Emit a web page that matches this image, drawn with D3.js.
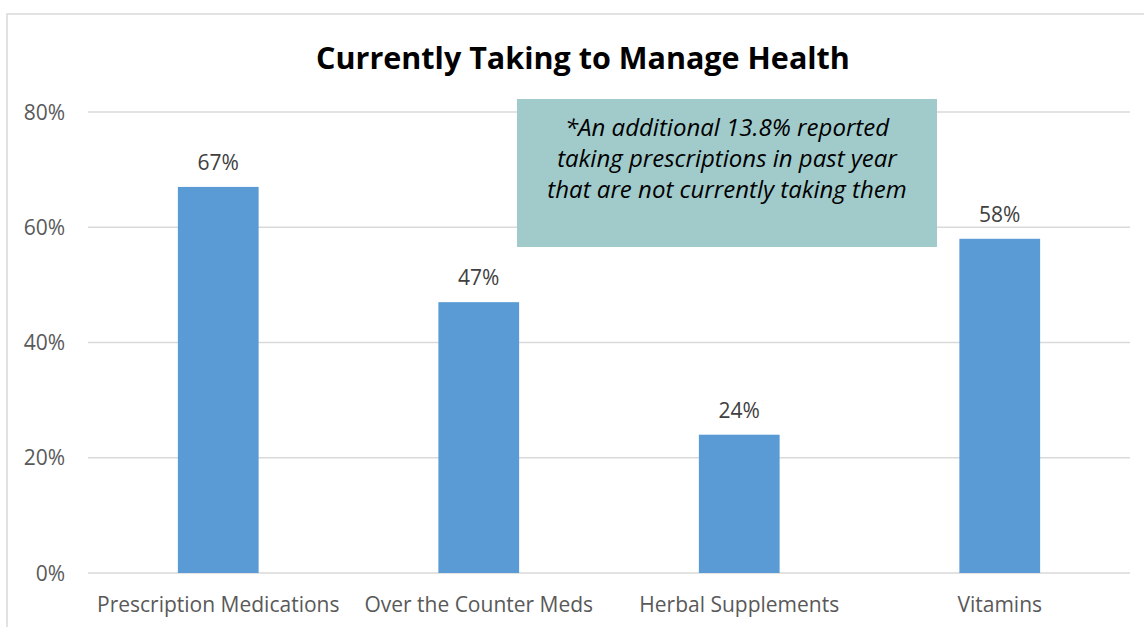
<!DOCTYPE html>
<html>
<head>
<meta charset="utf-8">
<script src="https://cdn.jsdelivr.net/npm/d3@7"></script>
<style>
  body { margin: 0; background: #fff; }
  svg { display: block; }
</style>
</head>
<body>
<div id="chart"></div>
<script>
const categories = ["Prescription Medications", "Over the Counter Meds", "Herbal Supplements", "Vitamins"]
const values = [67, 47, 24, 58]
const yTicks = [0, 20, 40, 60, 80]
const noteLines = ["*An additional 13.8% reported", "taking prescriptions in past year", "that are not currently taking them"]

const W = 1144, H = 627
const M = {LEFT: 88, RIGHT: 14, TOP: 112, BOTTOM: 54}
const FONT = "'Open Sans', 'Noto Sans', sans-serif"

const svg = d3.select("#chart").append("svg")
    .attr("width", W)
    .attr("height", H)

// chart frame
svg.append("rect")
    .attr("x", 7).attr("y", 14)
    .attr("width", W + 10).attr("height", H + 10)
    .attr("fill", "#fff")
    .attr("stroke", "#d9d9d9")
    .attr("stroke-width", 1.5)

const x = d3.scaleBand()
    .domain(categories)
    .range([M.LEFT, W - M.RIGHT])
    .paddingInner(0.69)
    .paddingOuter(0.345)

const y = d3.scaleLinear()
    .domain([0, 80])
    .range([573, 112])

// gridlines
svg.append("g")
    .selectAll("line")
    .data(yTicks).enter()
    .append("line")
    .attr("x1", M.LEFT).attr("x2", W - M.RIGHT)
    .attr("y1", d => y(d)).attr("y2", d => y(d))
    .attr("stroke", "#d9d9d9")
    .attr("stroke-width", 1.5)

// y tick labels
svg.append("g")
    .selectAll("text")
    .data(yTicks).enter()
    .append("text")
    .attr("x", 65)
    .attr("y", d => y(d) + 7.5)
    .attr("text-anchor", "end")
    .attr("font-family", FONT)
    .attr("font-size", 21)
    .attr("fill", "#595959")
    .text(d => d + "%")

// bars
svg.append("g")
    .selectAll("rect")
    .data(values).enter()
    .append("rect")
    .attr("x", (d, i) => x(categories[i]))
    .attr("y", d => y(d))
    .attr("width", x.bandwidth())
    .attr("height", d => y(0) - y(d))
    .attr("fill", "#5b9bd5")

// value labels
svg.append("g")
    .selectAll("text")
    .data(values).enter()
    .append("text")
    .attr("x", (d, i) => x(categories[i]) + x.bandwidth() / 2)
    .attr("y", d => y(d) - 17)
    .attr("text-anchor", "middle")
    .attr("font-family", FONT)
    .attr("font-size", 21)
    .attr("fill", "#404040")
    .text(d => d + "%")

// category labels
svg.append("g")
    .selectAll("text")
    .data(categories).enter()
    .append("text")
    .attr("x", d => x(d) + x.bandwidth() / 2)
    .attr("y", 612)
    .attr("text-anchor", "middle")
    .attr("font-family", FONT)
    .attr("font-size", 21)
    .attr("fill", "#595959")
    .text(d => d)

// title
svg.append("text")
    .attr("x", 583).attr("y", 69)
    .attr("text-anchor", "middle")
    .attr("font-family", FONT)
    .attr("font-weight", "bold")
    .attr("font-size", 30.5)
    .attr("fill", "#000")
    .text("Currently Taking to Manage Health")

// note box
const note = svg.append("g")
note.append("rect")
    .attr("x", 517).attr("y", 99)
    .attr("width", 420).attr("height", 148)
    .attr("fill", "#a1cbcb")
note.selectAll("text")
    .data(noteLines).enter()
    .append("text")
    .attr("x", 727)
    .attr("y", (d, i) => 136 + i * 31)
    .attr("text-anchor", "middle")
    .attr("font-family", FONT)
    .attr("font-style", "italic")
    .attr("font-size", 24)
    .attr("fill", "#000")
    .text(d => d)
</script>
</body>
</html>
